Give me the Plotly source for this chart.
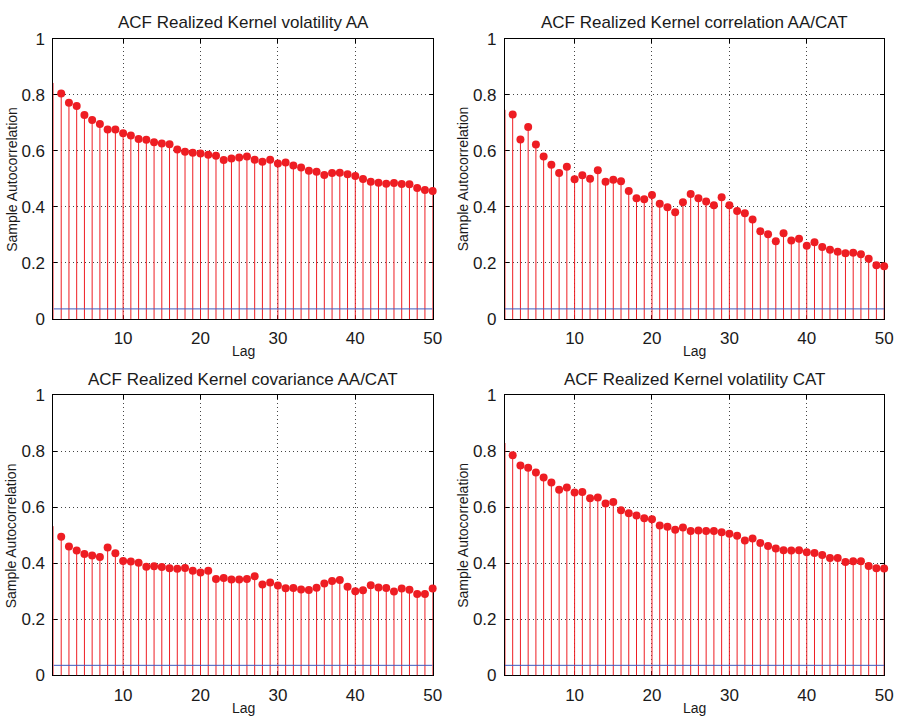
import plotly.graph_objects as go

W, H = 908, 727

lags = list(range(1, 51))

acf_vol_aa = [0.843, 0.805, 0.772, 0.761, 0.729, 0.711, 0.696, 0.677, 0.677, 0.663,
              0.655, 0.643, 0.640, 0.631, 0.627, 0.624, 0.605, 0.597, 0.594, 0.591,
              0.587, 0.583, 0.568, 0.573, 0.577, 0.580, 0.569, 0.562, 0.569, 0.555,
              0.559, 0.548, 0.541, 0.529, 0.526, 0.514, 0.521, 0.522, 0.517, 0.511,
              0.500, 0.490, 0.487, 0.483, 0.486, 0.482, 0.481, 0.468, 0.461, 0.457]

acf_corr = [0.747, 0.730, 0.641, 0.686, 0.623, 0.580, 0.551, 0.521, 0.544, 0.499,
            0.513, 0.501, 0.531, 0.490, 0.497, 0.492, 0.457, 0.431, 0.428, 0.443,
            0.412, 0.399, 0.381, 0.417, 0.446, 0.431, 0.420, 0.406, 0.435, 0.406,
            0.386, 0.378, 0.355, 0.313, 0.303, 0.278, 0.306, 0.280, 0.287, 0.262,
            0.274, 0.257, 0.247, 0.240, 0.235, 0.237, 0.231, 0.215, 0.192, 0.188]

acf_cov = [0.533, 0.495, 0.460, 0.446, 0.434, 0.428, 0.423, 0.457, 0.436, 0.409,
           0.407, 0.402, 0.388, 0.390, 0.387, 0.383, 0.381, 0.384, 0.374, 0.368,
           0.374, 0.344, 0.348, 0.343, 0.343, 0.344, 0.354, 0.325, 0.332, 0.321,
           0.311, 0.312, 0.307, 0.305, 0.313, 0.328, 0.337, 0.341, 0.317, 0.301,
           0.304, 0.322, 0.314, 0.312, 0.300, 0.310, 0.306, 0.291, 0.291, 0.310]

acf_vol_cat = [0.830, 0.786, 0.750, 0.742, 0.725, 0.707, 0.689, 0.663, 0.671, 0.653,
               0.655, 0.633, 0.635, 0.614, 0.619, 0.590, 0.579, 0.571, 0.561, 0.558,
               0.535, 0.531, 0.520, 0.528, 0.516, 0.518, 0.516, 0.516, 0.511, 0.506,
               0.499, 0.482, 0.489, 0.473, 0.462, 0.453, 0.447, 0.446, 0.447, 0.440,
               0.437, 0.430, 0.419, 0.419, 0.405, 0.408, 0.408, 0.391, 0.383, 0.382]

conf_bound = 0.036

titles = ["ACF Realized Kernel volatility AA",
          "ACF Realized Kernel correlation AA/CAT",
          "ACF Realized Kernel covariance AA/CAT",
          "ACF Realized Kernel volatility CAT"]
series = [acf_vol_aa, acf_corr, acf_cov, acf_vol_cat]

x_ticks = [10, 20, 30, 40, 50]
y_ticks = [0, 0.2, 0.4, 0.6, 0.8, 1]

RED = "#ee1d23"
BLUE = "#3f5bbf"
FONT = "Liberation Sans, Arial, sans-serif"
TXT = "#1a1a1a"

# plot areas in pixels: (left, right, top, bottom)
boxes = [(54, 437, 30.8, 318.3), (510, 893, 30.8, 318.3),
         (54, 437, 396.8, 684.3), (510, 893, 396.8, 684.3)]


def px(x):
    return x / W


def py(y):
    return 1 - y / H


fig = go.Figure()
annotations = []
for i, (vals, title, box) in enumerate(zip(series, titles, boxes)):
    n = i + 1
    xa = "x" if n == 1 else f"x{n}"
    ya = "y" if n == 1 else f"y{n}"
    sizes = [0] + [8] * (len(vals) - 1)
    fig.add_trace(go.Scatter(
        x=lags, y=vals, mode="markers", xaxis=xa, yaxis=ya,
        marker=dict(color=RED, size=sizes, opacity=1, line=dict(width=0)),
        error_y=dict(type="data", symmetric=False, array=[0] * len(vals),
                     arrayminus=vals, width=0, thickness=1, color=RED),
        cliponaxis=False, showlegend=False, hoverinfo="x+y"))
    fig.add_trace(go.Scatter(
        x=[lags[0], lags[-1]], y=[conf_bound, conf_bound], mode="lines",
        xaxis=xa, yaxis=ya, line=dict(color=BLUE, width=1),
        showlegend=False, hoverinfo="skip"))

    l, r, t, b = box
    axis_common = dict(showline=True, linecolor="black", linewidth=1,
                       mirror="ticks", ticks="inside", ticklen=4,
                       tickcolor="black", showgrid=True, gridcolor="#444444",
                       griddash="1px,3px", gridwidth=1, zeroline=False,
                       tickfont=dict(family=FONT, size=17, color=TXT),
                       ticklabelstandoff=4, layer="below traces")
    fig.update_layout(**{
        ("xaxis" if n == 1 else f"xaxis{n}"): dict(
            domain=[px(l), px(r)], range=[1, 50], tickvals=x_ticks,
            anchor=ya, **axis_common),
        ("yaxis" if n == 1 else f"yaxis{n}"): dict(
            domain=[py(b), py(t)], range=[0, 1], tickvals=y_ticks,
            anchor=xa, **axis_common),
    })
    cx = (l + r) / 2
    annotations.append(dict(text=title, x=px(cx), y=py(t - 16.5), xref="paper",
                            yref="paper", showarrow=False, xanchor="center",
                            yanchor="middle",
                            font=dict(family=FONT, size=17, color=TXT)))
    annotations.append(dict(text="Lag", x=px(cx), y=py(b + 33), xref="paper",
                            yref="paper", showarrow=False, xanchor="center",
                            yanchor="middle",
                            font=dict(family=FONT, size=14, color=TXT)))
    annotations.append(dict(text="Sample Autocorrelation", x=px(l - 42),
                            y=py((t + b) / 2), xref="paper", yref="paper",
                            showarrow=False, xanchor="center", yanchor="middle",
                            textangle=-90,
                            font=dict(family=FONT, size=14, color=TXT)))

fig.update_layout(width=W, height=H, margin=dict(l=0, r=0, t=0, b=0),
                  paper_bgcolor="white", plot_bgcolor="white",
                  annotations=annotations, showlegend=False)

fig.write_html("out.html")
